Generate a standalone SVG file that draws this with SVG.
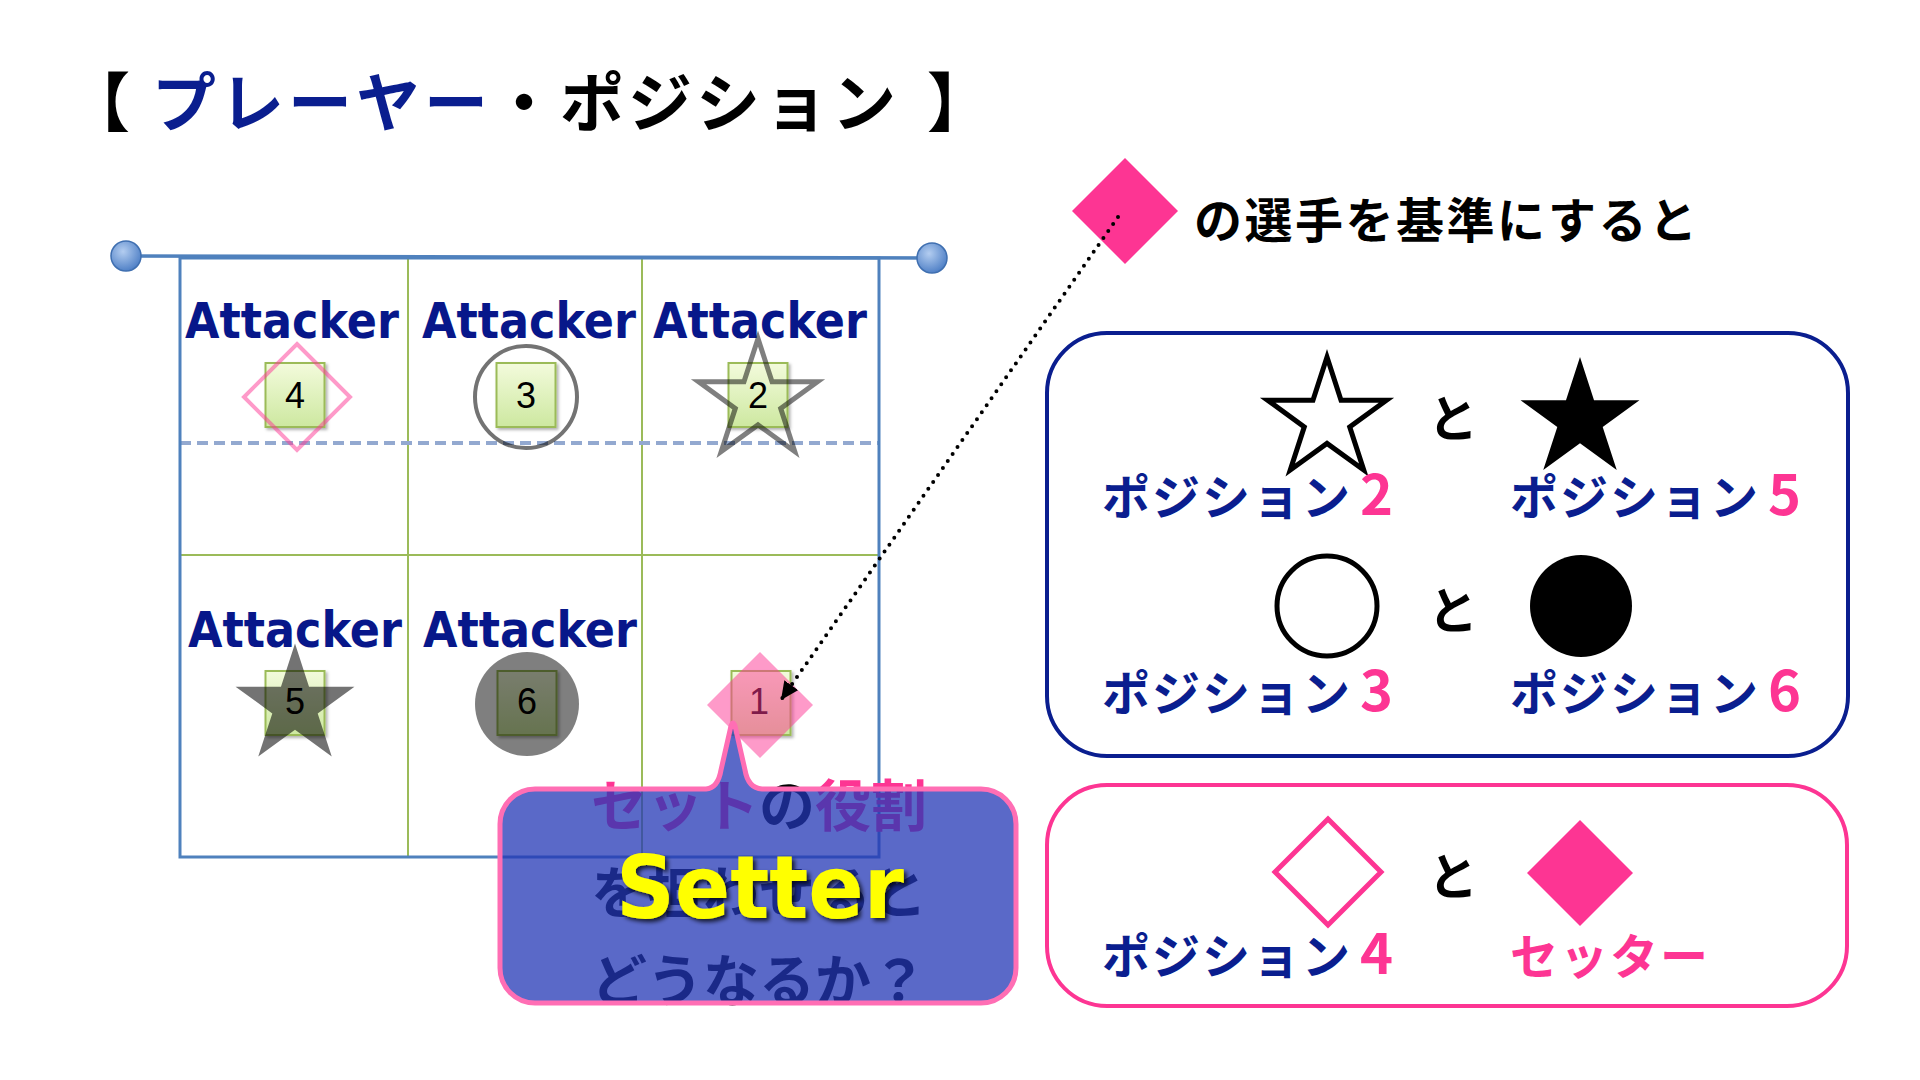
<svg xmlns="http://www.w3.org/2000/svg" width="1920" height="1080" viewBox="0 0 1920 1080">
<defs>
<style>
.jp{font-family:"Noto Sans CJK JP","Noto Sans CJK SC",sans-serif;font-weight:700}
.title{font-size:64px;letter-spacing:4px;fill:#000}
.att{font-family:"DejaVu Sans","Liberation Sans",sans-serif;font-weight:700;font-size:50px;fill:#07178a;text-anchor:middle}
.num{font-family:"Liberation Sans",Arial,sans-serif;font-size:36px;text-anchor:middle;fill:#000}
.sq{fill:url(#gSq);stroke:#9bbb59;stroke-width:2}
.leg{font-size:48px;letter-spacing:2px;fill:#0a1e8f}
.dg{font-size:56px;fill:#fd3593}
.pk{fill:#fd3593}
.to{font-size:50px;text-anchor:middle;fill:#000}
.cell{fill:none;stroke:#9bbb59;stroke-width:2}
.bub{font-size:56px;fill:#000}
</style>
<linearGradient id="gSq" x1="0" y1="0" x2="0" y2="1"><stop offset="0" stop-color="#f3fbdc"/><stop offset="1" stop-color="#cde8a0"/></linearGradient>
<radialGradient id="gDot" cx="0.4" cy="0.35" r="0.7"><stop offset="0" stop-color="#b3cdf0"/><stop offset="1" stop-color="#4a7cc4"/></radialGradient>
<path id="star" d="M0,-62.5 L14.03,-19.31 L59.44,-19.31 L22.7,7.38 L36.74,50.56 L0,23.87 L-36.74,50.56 L-22.7,7.38 L-59.44,-19.31 L-14.03,-19.31 Z"/>
<path id="dia" d="M0,-53 L53,0 L0,53 L-53,0 Z"/>
<rect id="sqr" x="-29.5" y="-32" width="59" height="64"/>
<marker id="arr" markerUnits="userSpaceOnUse" markerWidth="20" markerHeight="18" refX="18" refY="8.5" orient="auto"><path d="M0,0 L18,8.5 L0,17 Z" fill="#000"/></marker>
<filter id="shd" x="-20%" y="-20%" width="140%" height="140%"><feDropShadow dx="2" dy="2" stdDeviation="1.5" flood-color="#000" flood-opacity="0.3"/></filter>
<filter id="tshd" x="-10%" y="-20%" width="120%" height="150%"><feDropShadow dx="3" dy="3" stdDeviation="2" flood-color="#000" flood-opacity="0.75"/></filter>
</defs>
<rect width="1920" height="1080" fill="#fff"/>

<g id="title">
<text class="jp title" y="126"><tspan x="66">【</tspan><tspan x="152" fill="#0a1e8f">プレーヤー</tspan><tspan>・ポジション</tspan><tspan x="927">】</tspan></text>
</g>

<g id="court">
<line class="cell" x1="408" y1="258" x2="408" y2="857"/>
<line class="cell" x1="642" y1="258" x2="642" y2="857"/>
<line class="cell" x1="180" y1="555" x2="879" y2="555"/>
<line x1="180" y1="443" x2="879" y2="443" stroke="#93a9d0" stroke-width="4" stroke-dasharray="11 6"/>
<rect x="180" y="258" width="699" height="599" fill="none" stroke="#4f81bd" stroke-width="3"/>
<line x1="126" y1="256" x2="932" y2="258" stroke="#4f81bd" stroke-width="3.5"/>
<circle cx="126" cy="256" r="15" fill="url(#gDot)" stroke="#3f6fb0" stroke-width="1.5"/>
<circle cx="932" cy="258" r="15" fill="url(#gDot)" stroke="#3f6fb0" stroke-width="1.5"/>
</g>

<g id="pos4">
<text class="att" x="292" y="338" textLength="214" lengthAdjust="spacingAndGlyphs">Attacker</text>
<use href="#sqr" class="sq" x="295" y="395" filter="url(#shd)"/>
<text class="num" x="295" y="408">4</text>
<use href="#dia" x="297" y="397" fill="none" stroke="#fd3593" stroke-opacity="0.5" stroke-width="4"/>
</g>
<g id="pos3">
<text class="att" x="529" y="338" textLength="214" lengthAdjust="spacingAndGlyphs">Attacker</text>
<use href="#sqr" class="sq" x="526" y="395" filter="url(#shd)"/>
<text class="num" x="526" y="408">3</text>
<circle cx="526" cy="397" r="51" fill="none" stroke="#000" stroke-opacity="0.55" stroke-width="4"/>
</g>
<g id="pos2">
<text class="att" x="760" y="338" textLength="214" lengthAdjust="spacingAndGlyphs">Attacker</text>
<use href="#sqr" class="sq" x="758" y="395" filter="url(#shd)"/>
<text class="num" x="758" y="408">2</text>
<use href="#star" x="758" y="401" fill="none" stroke="#000" stroke-opacity="0.5" stroke-width="5"/>
</g>
<g id="pos5">
<text class="att" x="295" y="647" textLength="214" lengthAdjust="spacingAndGlyphs">Attacker</text>
<use href="#sqr" class="sq" x="295" y="703" filter="url(#shd)"/>
<text class="num" x="295" y="714">5</text>
<use href="#star" x="295" y="706" fill="#000" fill-opacity="0.55"/>
</g>
<g id="pos6">
<text class="att" x="530" y="647" textLength="214" lengthAdjust="spacingAndGlyphs">Attacker</text>
<use href="#sqr" class="sq" x="527" y="703" filter="url(#shd)"/>
<text class="num" x="527" y="714">6</text>
<circle cx="527" cy="704" r="52" fill="#000" fill-opacity="0.5"/>
</g>
<g id="pos1">
<use href="#sqr" class="sq" x="761" y="703" filter="url(#shd)"/>
<text class="num" x="759" y="714">1</text>
<use href="#dia" x="760" y="705" fill="#fd3593" fill-opacity="0.5"/>
</g>

<g id="callout">
<text class="jp bub" x="591" y="826"><tspan class="pk">セット</tspan><tspan>の</tspan><tspan class="pk">役割</tspan></text>
<text class="jp bub" x="591" y="913">を担わせると</text>
<text class="jp bub" x="591" y="1001">どうなるか？</text>
<path d="M535,789 L706,789 Q718,788 721,770 L731,726 Q733,720 735,726 L745,770 Q748,788 762,789 L981,789 A35,35 0 0 1 1016,824 L1016,968 A35,35 0 0 1 981,1003 L535,1003 A35,35 0 0 1 500,968 L500,824 A35,35 0 0 1 535,789 Z" fill="rgb(35,55,182)" fill-opacity="0.75" stroke="#ff6eb4" stroke-width="5" stroke-linejoin="round"/>
<text x="760" y="918" font-family="DejaVu Sans, Liberation Sans, sans-serif" font-weight="700" font-size="88" fill="#ffff00" text-anchor="middle" textLength="288" lengthAdjust="spacingAndGlyphs" filter="url(#tshd)">Setter</text>
</g>

<g id="reference-note">
<use href="#dia" x="1125" y="211" class="pk"/>
<text class="jp" x="1194" y="238" font-size="48" letter-spacing="2.5" fill="#000">の選手を基準にすると</text>
</g>

<g id="legend-attackers">
<rect x="1047" y="333" width="801" height="423" rx="60" fill="none" stroke="#0a1e8f" stroke-width="4"/>
<use href="#star" x="1327" y="419.5" fill="#fff" stroke="#000" stroke-width="5"/>
<text class="jp to" x="1453" y="437">と</text>
<use href="#star" x="1580" y="419.5" fill="#000"/>
<text class="jp leg" x="1102" y="515">ポジション<tspan class="dg" dx="8">2</tspan></text>
<text class="jp leg" x="1510" y="515">ポジション<tspan class="dg" dx="8">5</tspan></text>
<circle cx="1327" cy="606" r="50" fill="#fff" stroke="#000" stroke-width="5"/>
<text class="jp to" x="1453" y="629">と</text>
<circle cx="1581" cy="606" r="51" fill="#000"/>
<text class="jp leg" x="1102" y="711">ポジション<tspan class="dg" dx="8">3</tspan></text>
<text class="jp leg" x="1510" y="711">ポジション<tspan class="dg" dx="8">6</tspan></text>
</g>

<g id="legend-setter">
<rect x="1047" y="785" width="800" height="221" rx="60" fill="none" stroke="#fd3593" stroke-width="4"/>
<use href="#dia" x="1328" y="872" fill="#fff" stroke="#fd3593" stroke-width="5"/>
<text class="jp to" x="1453" y="895">と</text>
<use href="#dia" x="1580" y="873" class="pk"/>
<text class="jp leg" x="1102" y="974">ポジション<tspan class="dg" dx="8">4</tspan></text>
<text class="jp leg pk" x="1510" y="974">セッター</text>
</g>

<g id="connectors">
<line x1="1118" y1="217" x2="781" y2="700" stroke="#000" stroke-width="4" stroke-dasharray="0 8.5" stroke-linecap="round" marker-end="url(#arr)"/>
</g>
</svg>
